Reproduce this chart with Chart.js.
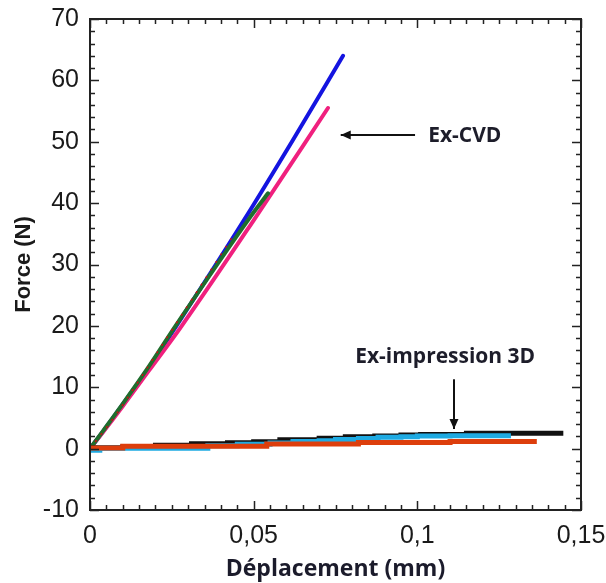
<!DOCTYPE html>
<html>
<head>
<meta charset="utf-8">
<script src="https://cdn.jsdelivr.net/npm/chart.js@4.4.1/dist/chart.umd.min.js"></script>
<style>
  html, body { margin: 0; padding: 0; background: #fff; }
  #wrap { width: 606px; height: 583px; }
</style>
</head>
<body>
<div id="wrap"><canvas id="graph" width="606" height="583"></canvas></div>
<script>
// Ex-CVD samples: [deplacement (mm), force (N)]
const cvdBlue  = [[0,0],[0.004,2.8],[0.01,7.2],[0.018,13.2],[0.0264,20],[0.047,37.2],[0.062,50.3],[0.0773,64]];
const cvdPink  = [[0,0],[0.004,2.7],[0.01,6.9],[0.018,12.7],[0.0275,19.6],[0.05,37.2],[0.0727,55.5]];
const cvdGreen = [[0,0],[0.004,2.9],[0.01,7.3],[0.018,13.4],[0.0264,20.2],[0.0485,37.4],[0.0544,41.6]];
const cvdRed   = [[0,0],[0.008,5.6],[0.0224,17.2],[0.0435,34.5]];

// Ex-impression 3D samples (stair-like records)
const p3dBlack  = [[0,0],[0.01,0.15],[0.02,0.25],[0.031,0.55],[0.042,0.8],[0.05,0.95],[0.058,1.1],[0.07,1.45],[0.078,1.7],[0.087,1.95],[0.095,2.05],[0.101,2.2],[0.115,2.3],[0.1286,2.5],[0.1446,2.5]];
const p3dCyan   = [[0,0],[0.003,-0.25],[0.036,0.05],[0.045,0.45],[0.055,0.7],[0.062,0.9],[0.07,1.15],[0.075,1.3],[0.082,1.5],[0.088,1.65],[0.095,1.85],[0.1,1.95],[0.11,2.05],[0.1286,2.1]];
const p3dOrange = [[0,0],[0.01,0.1],[0.054,0.4],[0.082,0.75],[0.11,1.0],[0.128,1.15],[0.1365,1.15]];

const xMin = 0, xMax = 0.15, xStep = 0.05, xMinor = 0.005;
const yMin = -10, yMax = 70, yStep = 10, yMinor = 2;

// annotations in data units
const noteCvd = { text: 'Ex-CVD', tx: 0.1145, ty: 50.9, from: [0.0993, 51.1], to: [0.0766, 51.1] };
const note3d  = { text: 'Ex-impression 3D', tx: 0.1085, ty: 15.0, from: [0.1112, 11.3], to: [0.1112, 3.2] };

function pts(arr) {
    return arr.map(p => ({ x: p[0], y: p[1] }));
}

const frameTicks = {
    id: 'frameTicks',
    afterDraw(chart) {
        const {ctx, chartArea: a, scales: {x, y}} = chart;
        ctx.save();
        ctx.strokeStyle = '#222';
        ctx.lineWidth = 2;
        ctx.strokeRect(a.left, a.top, a.right - a.left, a.bottom - a.top);
        ctx.lineWidth = 1.5;
        ctx.beginPath();
        for (let v = yMin; v <= yMax + 1e-9; v += yMinor) {
            const py = Math.round(y.getPixelForValue(v)) + 0.5;
            const len = Math.abs(v % yStep) < 1e-6 ? 9 : 5;
            ctx.moveTo(a.left, py); ctx.lineTo(a.left + len, py);
            ctx.moveTo(a.right, py); ctx.lineTo(a.right - len, py);
        }
        const n = Math.round((xMax - xMin) / xMinor);
        for (let i = 0; i <= n; i++) {
            const v = xMin + i * xMinor;
            const px = Math.round(x.getPixelForValue(v)) + 0.5;
            const len = i % 10 === 0 ? 9 : 5;
            ctx.moveTo(px, a.bottom); ctx.lineTo(px, a.bottom - len);
            ctx.moveTo(px, a.top); ctx.lineTo(px, a.top + len);
        }
        ctx.stroke();

        // annotations
        ctx.font = 'bold 21px "Open Sans"';
        ctx.textAlign = 'center';
        ctx.textBaseline = 'middle';
        [noteCvd, note3d].forEach(n => {
            ctx.fillStyle = '#1d1d2a';
            ctx.fillText(n.text, x.getPixelForValue(n.tx), y.getPixelForValue(n.ty));
            const x1 = x.getPixelForValue(n.from[0]), y1 = y.getPixelForValue(n.from[1]);
            const x2 = x.getPixelForValue(n.to[0]), y2 = y.getPixelForValue(n.to[1]);
            ctx.strokeStyle = '#111';
            ctx.lineWidth = 2;
            ctx.beginPath();
            ctx.moveTo(x1, y1); ctx.lineTo(x2, y2);
            ctx.stroke();
            const ang = Math.atan2(y2 - y1, x2 - x1);
            ctx.fillStyle = '#111';
            ctx.beginPath();
            ctx.moveTo(x2, y2);
            ctx.lineTo(x2 - 10 * Math.cos(ang) + 4.5 * Math.sin(ang), y2 - 10 * Math.sin(ang) - 4.5 * Math.cos(ang));
            ctx.lineTo(x2 - 10 * Math.cos(ang) - 4.5 * Math.sin(ang), y2 - 10 * Math.sin(ang) + 4.5 * Math.cos(ang));
            ctx.closePath();
            ctx.fill();
        });
        ctx.restore();
    }
};

function line(data, color, width, extra) {
    return Object.assign({
        data: pts(data),
        borderColor: color,
        backgroundColor: color,
        borderWidth: width,
        pointRadius: 0,
        cubicInterpolationMode: 'monotone',
        borderCapStyle: 'round',
        fill: false
    }, extra || {});
}

const stairs = { stepped: 'after', borderCapStyle: 'butt' };

const ctx = document.getElementById('graph');
const chart = new Chart(ctx, {
    type: 'line',
    data: {
        datasets: [
            line(p3dOrange, '#dd3e0c', 5, Object.assign({ order: 1 }, stairs)),
            line(p3dCyan, '#1eaae2', 5, Object.assign({ order: 2 }, stairs)),
            line(p3dBlack, '#111111', 5, Object.assign({ order: 3 }, stairs)),
            line(cvdRed, '#c81010', 1.5, { borderDash: [1, 8], order: 4 }),
            line(cvdGreen, '#1f6e2c', 4, { order: 5 }),
            line(cvdPink, '#f0207e', 4, { order: 6 }),
            line(cvdBlue, '#1414e0', 4, { order: 7 })
        ]
    },
    options: {
        responsive: false,
        animation: false,
        layout: { padding: { top: 19, right: 25, left: 0, bottom: 0 } },
        plugins: { legend: { display: false }, tooltip: { enabled: false } },
        scales: {
            x: {
                type: 'linear',
                min: xMin, max: xMax,
                grid: { display: false, drawTicks: false },
                border: { display: false },
                afterFit(scale) {
                    scale.height = 73;
                    scale.paddingLeft = 0;
                    scale.paddingRight = 0;
                },
                ticks: {
                    stepSize: xStep,
                    padding: 11,
                    color: '#1a1a1a',
                    font: { family: '"Liberation Sans", Arial', size: 25 },
                    callback: v => parseFloat(v.toFixed(3)).toString().replace('.', ',')
                },
                title: {
                    display: true,
                    text: 'Déplacement (mm)',
                    color: '#1b1b2b',
                    font: { family: '"Open Sans"', size: 23, weight: 'bold', lineHeight: 1.2 },
                    padding: { top: 0, bottom: 0 }
                }
            },
            y: {
                min: yMin, max: yMax,
                grid: { display: false, drawTicks: false },
                border: { display: false },
                afterFit(scale) {
                    scale.width = 90;
                    scale.paddingTop = 0;
                    scale.paddingBottom = 0;
                },
                ticks: {
                    stepSize: yStep,
                    padding: 11,
                    color: '#1a1a1a',
                    font: { family: '"Liberation Sans", Arial', size: 25 }
                },
                title: {
                    display: true,
                    text: 'Force (N)',
                    color: '#1a1a1a',
                    font: { family: '"Liberation Sans", Arial', size: 22, weight: 'bold', lineHeight: 1.2 },
                    padding: { top: 11, bottom: 0 }
                }
            }
        }
    },
    plugins: [frameTicks]
});
</script>
</body>
</html>
